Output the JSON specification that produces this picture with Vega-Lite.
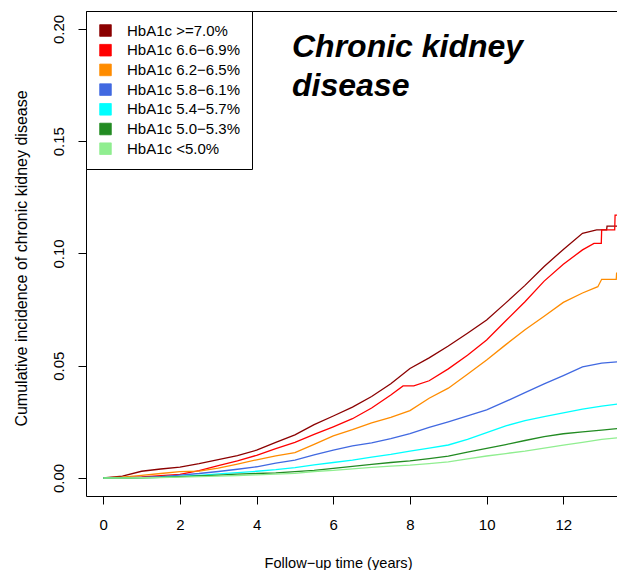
{
  "$schema": "https://vega.github.io/schema/vega-lite/v6.json",
  "width": 531,
  "height": 485,
  "autosize": {"type": "none"},
  "padding": {"left": 86, "top": 11, "right": 0, "bottom": 74},
  "background": "white",
  "config": {
    "view": {"stroke": null},
    "font": "Liberation Sans",
    "axis": {"grid": false, "domainColor": "black", "tickColor": "black", "labelColor": "black", "titleColor": "black", "labelFont": "Liberation Sans", "titleFont": "Liberation Sans", "titleFontWeight": "normal", "labelFontSize": 15, "tickWidth": 1, "domainWidth": 1, "tickSize": 8}
  },
  "title": {
    "text": ["Chronic kidney", "disease"],
    "orient": "none",
    "anchor": "start",
    "frame": "group",
    "baseline": "top",
    "offset": 0,
    "dx": 206,
    "dy": 21,
    "font": "Liberation Sans",
    "fontSize": 32,
    "fontStyle": "italic",
    "fontWeight": "bold",
    "lineHeight": 38.5,
    "color": "black"
  },
  "data": {"values": [
    {"g": ">=7.0%", "t": 0, "v": 0}, {"g": ">=7.0%", "t": 0.5, "v": 0.0008}, {"g": ">=7.0%", "t": 1.0, "v": 0.003}, {"g": ">=7.0%", "t": 1.5, "v": 0.004}, {"g": ">=7.0%", "t": 2.0, "v": 0.0048}, {"g": ">=7.0%", "t": 2.5, "v": 0.0064}, {"g": ">=7.0%", "t": 3.0, "v": 0.0082}, {"g": ">=7.0%", "t": 3.5, "v": 0.0100}, {"g": ">=7.0%", "t": 4.0, "v": 0.0124}, {"g": ">=7.0%", "t": 4.5, "v": 0.0159}, {"g": ">=7.0%", "t": 5.0, "v": 0.0192}, {"g": ">=7.0%", "t": 5.5, "v": 0.0238}, {"g": ">=7.0%", "t": 6.0, "v": 0.0276}, {"g": ">=7.0%", "t": 6.5, "v": 0.0316}, {"g": ">=7.0%", "t": 7.0, "v": 0.0363}, {"g": ">=7.0%", "t": 7.5, "v": 0.042}, {"g": ">=7.0%", "t": 8.0, "v": 0.0488}, {"g": ">=7.0%", "t": 8.5, "v": 0.0535}, {"g": ">=7.0%", "t": 9.0, "v": 0.0588}, {"g": ">=7.0%", "t": 9.5, "v": 0.0645}, {"g": ">=7.0%", "t": 10.0, "v": 0.0704}, {"g": ">=7.0%", "t": 10.5, "v": 0.078}, {"g": ">=7.0%", "t": 11.0, "v": 0.0858}, {"g": ">=7.0%", "t": 11.5, "v": 0.0942}, {"g": ">=7.0%", "t": 12.0, "v": 0.1018}, {"g": ">=7.0%", "t": 12.5, "v": 0.109}, {"g": ">=7.0%", "t": 12.87, "v": 0.1105}, {"g": ">=7.0%", "t": 13.13, "v": 0.1105}, {"g": ">=7.0%", "t": 13.14, "v": 0.1122}, {"g": ">=7.0%", "t": 13.6, "v": 0.1122},

    {"g": "6.6−6.9%", "t": 0, "v": 0}, {"g": "6.6−6.9%", "t": 0.5, "v": 0.0001}, {"g": "6.6−6.9%", "t": 1.0, "v": 0.0005}, {"g": "6.6−6.9%", "t": 1.5, "v": 0.0011}, {"g": "6.6−6.9%", "t": 2.0, "v": 0.0016}, {"g": "6.6−6.9%", "t": 2.5, "v": 0.0033}, {"g": "6.6−6.9%", "t": 3.0, "v": 0.0055}, {"g": "6.6−6.9%", "t": 3.5, "v": 0.0076}, {"g": "6.6−6.9%", "t": 4.0, "v": 0.0101}, {"g": "6.6−6.9%", "t": 4.5, "v": 0.0131}, {"g": "6.6−6.9%", "t": 5.0, "v": 0.0159}, {"g": "6.6−6.9%", "t": 5.5, "v": 0.0194}, {"g": "6.6−6.9%", "t": 6.0, "v": 0.0228}, {"g": "6.6−6.9%", "t": 6.5, "v": 0.0264}, {"g": "6.6−6.9%", "t": 7.0, "v": 0.0312}, {"g": "6.6−6.9%", "t": 7.5, "v": 0.037}, {"g": "6.6−6.9%", "t": 7.82, "v": 0.041}, {"g": "6.6−6.9%", "t": 8.1, "v": 0.041}, {"g": "6.6−6.9%", "t": 8.5, "v": 0.0433}, {"g": "6.6−6.9%", "t": 9.0, "v": 0.0486}, {"g": "6.6−6.9%", "t": 9.5, "v": 0.0547}, {"g": "6.6−6.9%", "t": 10.0, "v": 0.0615}, {"g": "6.6−6.9%", "t": 10.5, "v": 0.07}, {"g": "6.6−6.9%", "t": 11.0, "v": 0.0785}, {"g": "6.6−6.9%", "t": 11.5, "v": 0.0877}, {"g": "6.6−6.9%", "t": 12.0, "v": 0.0952}, {"g": "6.6−6.9%", "t": 12.5, "v": 0.1016}, {"g": "6.6−6.9%", "t": 12.8, "v": 0.1045}, {"g": "6.6−6.9%", "t": 12.99, "v": 0.1045}, {"g": "6.6−6.9%", "t": 13.0, "v": 0.1105}, {"g": "6.6−6.9%", "t": 13.34, "v": 0.1105}, {"g": "6.6−6.9%", "t": 13.35, "v": 0.1171}, {"g": "6.6−6.9%", "t": 13.6, "v": 0.1171},

    {"g": "6.2−6.5%", "t": 0, "v": 0}, {"g": "6.2−6.5%", "t": 0.5, "v": 0.0004}, {"g": "6.2−6.5%", "t": 1.0, "v": 0.0012}, {"g": "6.2−6.5%", "t": 1.5, "v": 0.002}, {"g": "6.2−6.5%", "t": 2.0, "v": 0.0028}, {"g": "6.2−6.5%", "t": 2.5, "v": 0.0031}, {"g": "6.2−6.5%", "t": 3.0, "v": 0.0044}, {"g": "6.2−6.5%", "t": 3.5, "v": 0.0062}, {"g": "6.2−6.5%", "t": 4.0, "v": 0.0081}, {"g": "6.2−6.5%", "t": 4.5, "v": 0.0099}, {"g": "6.2−6.5%", "t": 5.0, "v": 0.0113}, {"g": "6.2−6.5%", "t": 5.5, "v": 0.015}, {"g": "6.2−6.5%", "t": 6.0, "v": 0.0188}, {"g": "6.2−6.5%", "t": 6.5, "v": 0.0215}, {"g": "6.2−6.5%", "t": 7.0, "v": 0.0245}, {"g": "6.2−6.5%", "t": 7.5, "v": 0.027}, {"g": "6.2−6.5%", "t": 8.0, "v": 0.030}, {"g": "6.2−6.5%", "t": 8.5, "v": 0.0355}, {"g": "6.2−6.5%", "t": 9.0, "v": 0.040}, {"g": "6.2−6.5%", "t": 9.5, "v": 0.0462}, {"g": "6.2−6.5%", "t": 10.0, "v": 0.0526}, {"g": "6.2−6.5%", "t": 10.5, "v": 0.0594}, {"g": "6.2−6.5%", "t": 11.0, "v": 0.066}, {"g": "6.2−6.5%", "t": 11.5, "v": 0.072}, {"g": "6.2−6.5%", "t": 12.0, "v": 0.0782}, {"g": "6.2−6.5%", "t": 12.5, "v": 0.0824}, {"g": "6.2−6.5%", "t": 12.9, "v": 0.0852}, {"g": "6.2−6.5%", "t": 13.0, "v": 0.0885}, {"g": "6.2−6.5%", "t": 13.38, "v": 0.0885}, {"g": "6.2−6.5%", "t": 13.39, "v": 0.0912}, {"g": "6.2−6.5%", "t": 13.6, "v": 0.0912},

    {"g": "5.8−6.1%", "t": 0, "v": 0}, {"g": "5.8−6.1%", "t": 0.5, "v": 0.0001}, {"g": "5.8−6.1%", "t": 1.0, "v": 0.0003}, {"g": "5.8−6.1%", "t": 1.5, "v": 0.0006}, {"g": "5.8−6.1%", "t": 2.0, "v": 0.0013}, {"g": "5.8−6.1%", "t": 2.5, "v": 0.002}, {"g": "5.8−6.1%", "t": 3.0, "v": 0.0029}, {"g": "5.8−6.1%", "t": 3.5, "v": 0.0039}, {"g": "5.8−6.1%", "t": 4.0, "v": 0.005}, {"g": "5.8−6.1%", "t": 4.5, "v": 0.0066}, {"g": "5.8−6.1%", "t": 5.0, "v": 0.008}, {"g": "5.8−6.1%", "t": 5.5, "v": 0.0103}, {"g": "5.8−6.1%", "t": 6.0, "v": 0.0124}, {"g": "5.8−6.1%", "t": 6.5, "v": 0.0143}, {"g": "5.8−6.1%", "t": 7.0, "v": 0.0156}, {"g": "5.8−6.1%", "t": 7.5, "v": 0.0175}, {"g": "5.8−6.1%", "t": 8.0, "v": 0.0198}, {"g": "5.8−6.1%", "t": 8.5, "v": 0.0225}, {"g": "5.8−6.1%", "t": 9.0, "v": 0.025}, {"g": "5.8−6.1%", "t": 9.5, "v": 0.0277}, {"g": "5.8−6.1%", "t": 10.0, "v": 0.0303}, {"g": "5.8−6.1%", "t": 10.5, "v": 0.0341}, {"g": "5.8−6.1%", "t": 11.0, "v": 0.038}, {"g": "5.8−6.1%", "t": 11.5, "v": 0.0419}, {"g": "5.8−6.1%", "t": 12.0, "v": 0.0456}, {"g": "5.8−6.1%", "t": 12.5, "v": 0.0495}, {"g": "5.8−6.1%", "t": 13.0, "v": 0.0512}, {"g": "5.8−6.1%", "t": 13.6, "v": 0.052},

    {"g": "5.4−5.7%", "t": 0, "v": 0}, {"g": "5.4−5.7%", "t": 0.5, "v": 0.0001}, {"g": "5.4−5.7%", "t": 1.0, "v": 0.0002}, {"g": "5.4−5.7%", "t": 1.5, "v": 0.0003}, {"g": "5.4−5.7%", "t": 2.0, "v": 0.0007}, {"g": "5.4−5.7%", "t": 2.5, "v": 0.0012}, {"g": "5.4−5.7%", "t": 3.0, "v": 0.0018}, {"g": "5.4−5.7%", "t": 3.5, "v": 0.0024}, {"g": "5.4−5.7%", "t": 4.0, "v": 0.003}, {"g": "5.4−5.7%", "t": 4.5, "v": 0.0037}, {"g": "5.4−5.7%", "t": 5.0, "v": 0.0046}, {"g": "5.4−5.7%", "t": 5.5, "v": 0.0058}, {"g": "5.4−5.7%", "t": 6.0, "v": 0.0069}, {"g": "5.4−5.7%", "t": 6.5, "v": 0.008}, {"g": "5.4−5.7%", "t": 7.0, "v": 0.0093}, {"g": "5.4−5.7%", "t": 7.5, "v": 0.0105}, {"g": "5.4−5.7%", "t": 8.0, "v": 0.012}, {"g": "5.4−5.7%", "t": 8.5, "v": 0.0133}, {"g": "5.4−5.7%", "t": 9.0, "v": 0.0147}, {"g": "5.4−5.7%", "t": 9.5, "v": 0.0172}, {"g": "5.4−5.7%", "t": 10.0, "v": 0.0202}, {"g": "5.4−5.7%", "t": 10.5, "v": 0.0232}, {"g": "5.4−5.7%", "t": 11.0, "v": 0.0256}, {"g": "5.4−5.7%", "t": 11.5, "v": 0.0273}, {"g": "5.4−5.7%", "t": 12.0, "v": 0.029}, {"g": "5.4−5.7%", "t": 12.5, "v": 0.0307}, {"g": "5.4−5.7%", "t": 13.0, "v": 0.032}, {"g": "5.4−5.7%", "t": 13.6, "v": 0.0334},

    {"g": "5.0−5.3%", "t": 0, "v": 0}, {"g": "5.0−5.3%", "t": 0.5, "v": 0}, {"g": "5.0−5.3%", "t": 1.0, "v": 0.0001}, {"g": "5.0−5.3%", "t": 1.5, "v": 0.0003}, {"g": "5.0−5.3%", "t": 2.0, "v": 0.0006}, {"g": "5.0−5.3%", "t": 2.5, "v": 0.0009}, {"g": "5.0−5.3%", "t": 3.0, "v": 0.0013}, {"g": "5.0−5.3%", "t": 3.5, "v": 0.0017}, {"g": "5.0−5.3%", "t": 4.0, "v": 0.002}, {"g": "5.0−5.3%", "t": 4.5, "v": 0.0023}, {"g": "5.0−5.3%", "t": 5.0, "v": 0.0028}, {"g": "5.0−5.3%", "t": 5.5, "v": 0.0034}, {"g": "5.0−5.3%", "t": 6.0, "v": 0.0043}, {"g": "5.0−5.3%", "t": 6.5, "v": 0.0052}, {"g": "5.0−5.3%", "t": 7.0, "v": 0.0061}, {"g": "5.0−5.3%", "t": 7.5, "v": 0.0069}, {"g": "5.0−5.3%", "t": 8.0, "v": 0.0076}, {"g": "5.0−5.3%", "t": 8.5, "v": 0.0086}, {"g": "5.0−5.3%", "t": 9.0, "v": 0.0097}, {"g": "5.0−5.3%", "t": 9.5, "v": 0.0115}, {"g": "5.0−5.3%", "t": 10.0, "v": 0.0132}, {"g": "5.0−5.3%", "t": 10.5, "v": 0.0149}, {"g": "5.0−5.3%", "t": 11.0, "v": 0.0167}, {"g": "5.0−5.3%", "t": 11.5, "v": 0.0184}, {"g": "5.0−5.3%", "t": 12.0, "v": 0.0197}, {"g": "5.0−5.3%", "t": 12.5, "v": 0.0205}, {"g": "5.0−5.3%", "t": 13.0, "v": 0.0213}, {"g": "5.0−5.3%", "t": 13.6, "v": 0.0223},

    {"g": "<5.0%", "t": 0, "v": 0}, {"g": "<5.0%", "t": 0.5, "v": 0}, {"g": "<5.0%", "t": 1.0, "v": 0.0001}, {"g": "<5.0%", "t": 1.5, "v": 0.0002}, {"g": "<5.0%", "t": 2.0, "v": 0.0004}, {"g": "<5.0%", "t": 2.5, "v": 0.0006}, {"g": "<5.0%", "t": 3.0, "v": 0.0008}, {"g": "<5.0%", "t": 3.5, "v": 0.0011}, {"g": "<5.0%", "t": 4.0, "v": 0.0014}, {"g": "<5.0%", "t": 4.5, "v": 0.0017}, {"g": "<5.0%", "t": 5.0, "v": 0.0021}, {"g": "<5.0%", "t": 5.5, "v": 0.0029}, {"g": "<5.0%", "t": 6.0, "v": 0.0034}, {"g": "<5.0%", "t": 6.5, "v": 0.0041}, {"g": "<5.0%", "t": 7.0, "v": 0.0047}, {"g": "<5.0%", "t": 7.5, "v": 0.0053}, {"g": "<5.0%", "t": 8.0, "v": 0.0057}, {"g": "<5.0%", "t": 8.5, "v": 0.0064}, {"g": "<5.0%", "t": 9.0, "v": 0.0072}, {"g": "<5.0%", "t": 9.5, "v": 0.0085}, {"g": "<5.0%", "t": 10.0, "v": 0.0098}, {"g": "<5.0%", "t": 10.5, "v": 0.0109}, {"g": "<5.0%", "t": 11.0, "v": 0.012}, {"g": "<5.0%", "t": 11.5, "v": 0.0133}, {"g": "<5.0%", "t": 12.0, "v": 0.0146}, {"g": "<5.0%", "t": 12.5, "v": 0.0159}, {"g": "<5.0%", "t": 13.0, "v": 0.0172}, {"g": "<5.0%", "t": 13.6, "v": 0.0182}
  ]},
  "layer": [
    {
      "mark": {"type": "line", "strokeWidth": 1.3, "clip": true, "interpolate": "linear"},
      "encoding": {
        "x": {"field": "t", "type": "quantitative",
              "scale": {"domain": [-0.45, 13.4], "nice": false, "zero": false},
              "axis": {"orient": "bottom", "values": [0, 2, 4, 6, 8, 10, 12], "format": "d", "labelPadding": 13, "labelFlush": false,
                       "title": "Follow−up time (years)", "titleFontSize": 14.6, "titleX": 252, "titleY": 67, "titleBaseline": "middle", "titleAnchor": null}},
        "y": {"field": "v", "type": "quantitative",
              "scale": {"domain": [-0.00802, 0.208], "nice": false, "zero": false},
              "axis": {"values": [0, 0.05, 0.1, 0.15, 0.2], "format": ".2f", "labelAngle": -90, "labelAlign": "center", "labelBaseline": "alphabetic", "labelPadding": 15, "labelFlush": false,
                       "title": "Cumulative incidence of chronic kidney disease", "titleFontSize": 16, "titleX": -65, "titleY": 247, "titleBaseline": "middle", "titleAngle": -90}},
        "color": {"field": "g", "type": "nominal",
                  "scale": {"domain": [">=7.0%", "6.6−6.9%", "6.2−6.5%", "5.8−6.1%", "5.4−5.7%", "5.0−5.3%", "<5.0%"],
                            "range": ["#8B0000", "#FF0000", "#FF8C00", "#4169E1", "#00FFFF", "#228B22", "#90EE90"]},
                  "legend": {"orient": "none", "legendX": 0, "legendY": 0, "title": null, "padding": 12, "rowPadding": 3.7,
                             "labelFontSize": 15, "labelFont": "Liberation Sans", "labelColor": "black", "labelOffset": 14,
                             "symbolType": "square", "symbolSize": 135, "strokeColor": "black", "fillColor": "white", "cornerRadius": 0,
                             "labelExpr": "'HbA1c ' + datum.label",
                             "encode": {"symbols": {"update": {"fill": {"scale": "color", "field": "value"}, "stroke": {"value": "black"}, "strokeWidth": {"value": 0.8}, "opacity": {"value": 1}, "fillOpacity": {"value": 1}}}}}}
      }
    },
    {
      "mark": {"type": "point", "opacity": 0},
      "encoding": {
        "x": {"field": "t", "type": "quantitative", "axis": {"orient": "top", "labels": false, "ticks": false, "title": null, "domain": true}}
      }
    }
  ],
  "resolve": {"axis": {"x": "independent"}}
}
